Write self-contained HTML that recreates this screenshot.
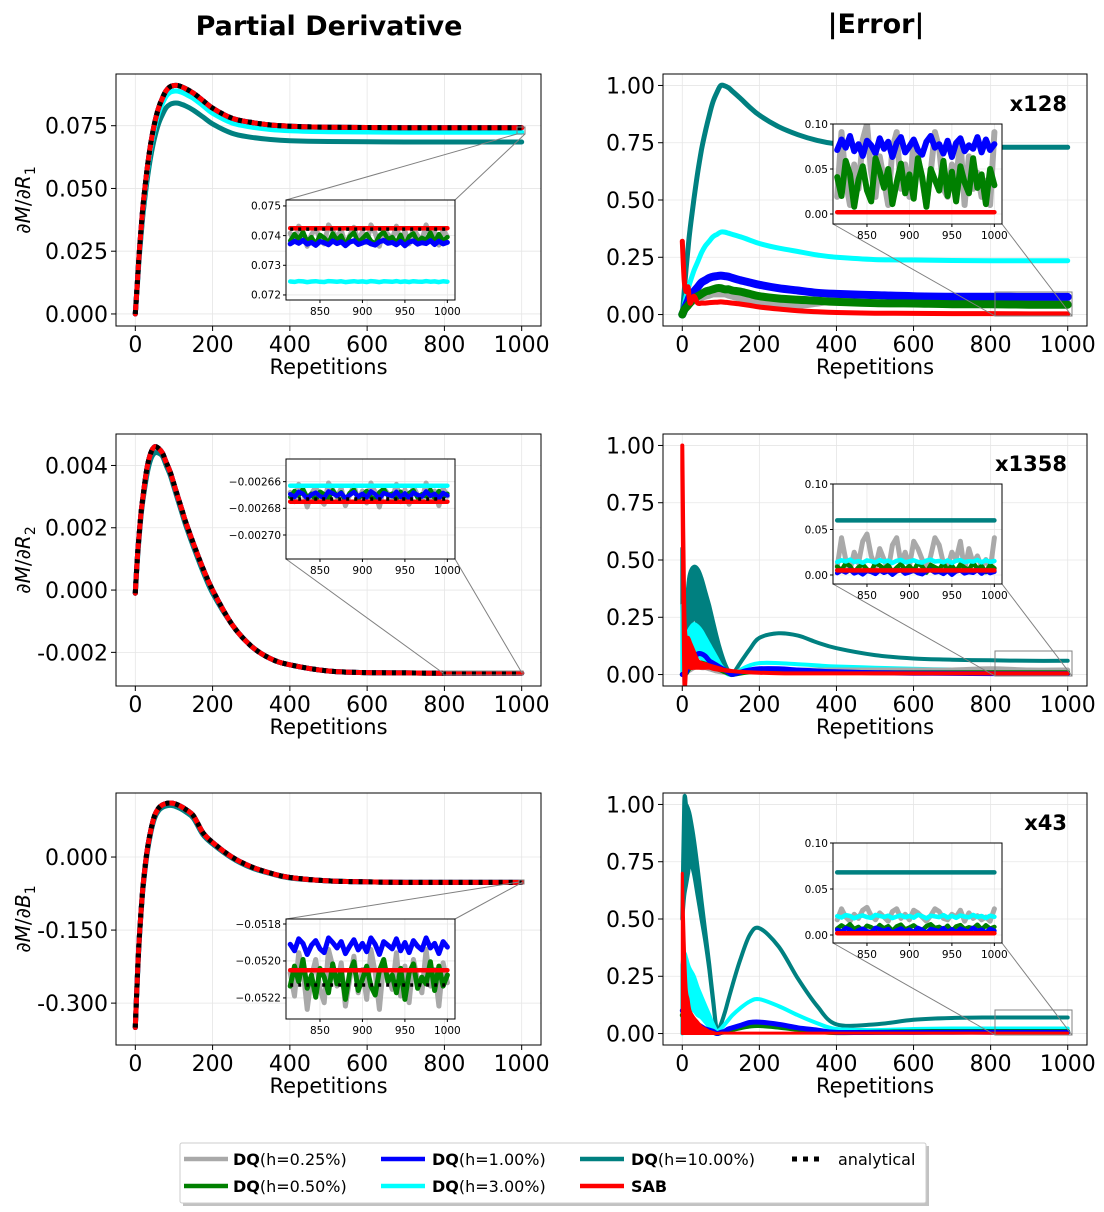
<!DOCTYPE html>
<html><head><meta charset="utf-8"><style>
html,body{margin:0;padding:0;background:#fff;}
svg{display:block;font-family:"DejaVu Sans","Liberation Sans",sans-serif;}
</style></head><body>
<svg id="fig" width="1104" height="1212" viewBox="0 0 1104 1212" xmlns="http://www.w3.org/2000/svg">
<text x="329" y="35" font-size="27" font-weight="bold" text-anchor="middle">Partial Derivative</text>
<text x="876" y="33" font-size="27" font-weight="bold" text-anchor="middle">|Error|</text>
<g id="plots"></g>
<g>
<rect x="183" y="1146" width="746" height="60" fill="#999" opacity="0.6"/>
<rect x="180" y="1143" width="746" height="60" fill="#fff" stroke="#ccc" stroke-width="1" rx="2"/>
<g font-size="16">
<line x1="184" y1="1159" x2="228" y2="1159" stroke="#a9a9a9" stroke-width="4.5"/>
<text x="233" y="1165"><tspan font-weight="bold">DQ</tspan>(h=0.25%)</text>
<line x1="184" y1="1186" x2="228" y2="1186" stroke="#008000" stroke-width="4.5"/>
<text x="233" y="1192"><tspan font-weight="bold">DQ</tspan>(h=0.50%)</text>
<line x1="381" y1="1159" x2="425" y2="1159" stroke="#0000ff" stroke-width="4.5"/>
<text x="432" y="1165"><tspan font-weight="bold">DQ</tspan>(h=1.00%)</text>
<line x1="381" y1="1186" x2="425" y2="1186" stroke="#00ffff" stroke-width="4.5"/>
<text x="432" y="1192"><tspan font-weight="bold">DQ</tspan>(h=3.00%)</text>
<line x1="580" y1="1159" x2="624" y2="1159" stroke="#008080" stroke-width="4.5"/>
<text x="631" y="1165"><tspan font-weight="bold">DQ</tspan>(h=10.00%)</text>
<line x1="580" y1="1186" x2="624" y2="1186" stroke="#ff0000" stroke-width="4.5"/>
<text x="631" y="1192" font-weight="bold">SAB</text>
<line x1="792" y1="1159" x2="822" y2="1159" stroke="#000" stroke-width="5" stroke-dasharray="5,6"/>
<text x="838" y="1165">analytical</text>
</g></g>
</svg>
<script>
// ---------- data ----------
const XA=[0,5,10,15,20,30,40,50,60,70,80,90,100,110,120,130,150,175,200,250,300,350,400,500,600,700,800,900,1000];
// Top-left dM/dR1
const tlAnalytical=[0,.012,.024,.034,.043,.057,.068,.076,.082,.086,.089,.0905,.091,.091,.0905,.0898,.088,.085,.082,.078,.0763,.0753,.0748,.0744,.0743,.0742,.0742,.0742,.0742];
const tlCyan=[0,.0117,.0234,.0332,.042,.0556,.0664,.0742,.080,.0839,.0868,.0883,.0888,.0888,.0883,.0876,.0859,.0830,.0800,.0761,.0745,.0735,.0730,.0726,.0725,.0724,.0724,.0724,.0724];
const tlTeal=[0,.011,.0222,.0314,.0397,.0526,.0628,.0702,.0757,.0794,.0822,.0835,.084,.084,.0835,.0829,.0812,.0785,.0757,.072,.0704,.0695,.069,.0687,.0686,.0685,.0685,.0685,.0685];
// Top-right error x128
const trTeal=[0,.1,.2,.29,.37,.5,.62,.72,.8,.87,.93,.97,1.0,.998,.99,.975,.945,.905,.87,.82,.785,.76,.745,.735,.732,.73,.73,.73,.73];
const trCyan=[0,.04,.08,.11,.14,.19,.23,.27,.3,.32,.34,.35,.36,.36,.355,.35,.34,.325,.31,.29,.275,.26,.25,.24,.238,.236,.235,.235,.235];
const trBlue=[0,.02,.04,.06,.08,.1,.12,.14,.15,.16,.165,.168,.17,.168,.165,.16,.15,.14,.13,.115,.105,.095,.09,.085,.08,.078,.078,.077,.077];
const trGreen=[0,.02,.03,.04,.05,.07,.08,.09,.1,.105,.11,.115,.115,.11,.11,.105,.1,.09,.08,.07,.065,.06,.055,.05,.048,.045,.045,.043,.043];
const trGray=[0,.02,.03,.04,.05,.06,.07,.075,.08,.085,.09,.09,.09,.09,.085,.08,.07,.06,.05,.04,.04,.05,.06,.05,.05,.05,.05,.05,.05];
const trRed=[.32,.15,.1,.12,.05,.08,.05,.05,.05,.052,.053,.054,.055,.054,.052,.05,.046,.04,.033,.024,.017,.012,.009,.006,.005,.004,.004,.003,.003];
// Middle-left dM/dR2
const mlAnalytical=[-.0001,.001,.0018,.0025,.003,.0039,.0044,.0046,.00455,.0044,.0041,.0038,.0034,.003,.0026,.0022,.0015,.0007,0,-.0011,-.0018,-.0022,-.0024,-.0026,-.00265,-.00266,-.00267,-.00267,-.00267];
const mlTeal=[-.0001,.0009,.0017,.0024,.0029,.0037,.0042,.0044,.0044,.0043,.004,.0037,.0033,.0029,.0025,.0021,.0014,.0006,-.0001,-.0011,-.0018,-.0022,-.0024,-.0026,-.00265,-.00266,-.00267,-.00267,-.00267];
// Middle-right error x1358
const mrTealHi=[.55,.15,.25,.38,.44,.47,.46,.42,.36,.3,.23,.16,.1,.05,.015,0,.05,.11,.16,.18,.17,.14,.115,.085,.07,.065,.062,.06,.06];
const mrTealLo=[.3,0,.05,.15,.2,.25,.22,.18,.14,.1,.07,.04,.02,.01,.005,0,.05,.11,.16,.18,.17,.14,.115,.085,.07,.065,.062,.06,.06];
const mrCyanHi=[.3,.05,.12,.18,.2,.22,.21,.19,.16,.13,.1,.07,.04,.02,.005,0,.02,.04,.05,.05,.045,.04,.035,.03,.025,.022,.02,.02,.02];
const mrCyanLo=[0,0,.02,.05,.08,.1,.09,.07,.06,.05,.04,.03,.02,.01,0,0,.02,.04,.05,.05,.045,.04,.035,.03,.025,.022,.02,.02,.02];
const mrBlue=[0,0,.01,.03,.05,.07,.09,.09,.08,.06,.05,.04,.03,.02,.01,0,.01,.02,.025,.025,.02,.015,.012,.008,.006,.005,.004,.004,.004];
const mrGreen=[0,0,.006,.02,.03,.04,.05,.05,.045,.035,.03,.025,.02,.012,.006,0,.006,.012,.015,.015,.012,.01,.01,.008,.008,.008,.008,.008,.008];
const mrGray=[0,0,.005,.015,.02,.03,.035,.03,.03,.025,.02,.015,.012,.01,.008,.005,.01,.015,.02,.02,.02,.02,.02,.02,.02,.02,.025,.02,.02];
const mrRedHi=[1.0,.3,.15,.16,.14,.1,.06,.05,.045,.04,.035,.03,.025,.02,.018,.015,.012,.01,.008,.006,.005,.005,.005,.005,.005,.005,.005,.005,.005];
const mrRedLo=[.9,0,.02,.05,.03,.03,.03,.03,.03,.03,.025,.022,.02,.018,.016,.015,.012,.01,.008,.006,.005,.005,.005,.005,.005,.005,.005,.005,.005];
// Bottom-left dM/dB1
const blAnalytical=[-.35,-.25,-.17,-.11,-.06,.01,.055,.085,.1,.107,.11,.111,.11,.107,.103,.098,.085,.05,.03,.0,-.02,-.033,-.042,-.049,-.051,-.052,-.052,-.052,-.052];
const blTeal=[-.35,-.255,-.175,-.115,-.065,.004,.05,.08,.095,.102,.105,.106,.105,.102,.098,.093,.08,.046,.027,-.002,-.022,-.034,-.043,-.049,-.051,-.052,-.052,-.052,-.052];
// Bottom-right error x43
const brTealHi=[.5,1.0,1.0,.98,.95,.85,.72,.58,.44,.3,.15,.01,.04,.09,.15,.21,.32,.43,.46,.38,.24,.12,.04,.04,.06,.068,.07,.07,.07];
const brTealLo=[.5,.6,.65,.7,.75,.7,.6,.5,.4,.28,.14,.01,.04,.09,.15,.21,.32,.43,.46,.38,.24,.12,.04,.04,.06,.068,.07,.07,.07];
const brCyanHi=[.3,.35,.33,.3,.28,.25,.2,.16,.12,.08,.04,.01,.02,.04,.06,.08,.11,.14,.15,.12,.08,.045,.02,.015,.02,.022,.022,.022,.022];
const brCyanLo=[0,.05,.08,.1,.1,.1,.08,.07,.05,.03,.02,.01,.02,.04,.06,.08,.11,.14,.15,.12,.08,.045,.02,.015,.02,.022,.022,.022,.022];
const brBlue=[.1,.1,.08,.07,.06,.05,.04,.03,.02,.015,.01,0,.005,.01,.02,.025,.035,.048,.05,.04,.025,.015,.005,.005,.005,.006,.006,.006,.006];
const brGreen=[.08,.08,.06,.05,.04,.035,.03,.02,.015,.01,.006,0,.004,.008,.014,.018,.025,.033,.035,.028,.018,.01,.004,.006,.008,.009,.009,.009,.009];
const brRedHi=[.7,.4,.2,.15,.1,.07,.05,.03,.02,.01,.005,0,.002,.002,.002,.002,.002,.002,.002,.002,.002,.002,.002,.002,.002,.002,.002,.002,.002];
const brRedLo=[0,0,0,0,0,0,0,0,0,0,0,0,.002,.002,.002,.002,.002,.002,.002,.002,.002,.002,.002,.002,.002,.002,.002,.002,.002];
// inset wiggle readings (x = 815..1000 step 5)
const XI=[815,820,825,830,835,840,845,850,855,860,865,870,875,880,885,890,895,900,905,910,915,920,925,930,935,940,945,950,955,960,965,970,975,980,985,990,995,1000];
const NA=[.2,-.5,.8,.3,-.9,.1,.6,-.3,-.7,.9,.4,-.2,.5,-.8,0,.7,-.4,.3,-.6,.9,.2,-.9,.5,.1,-.3,.8,-.5,.4,-.7,.6,0,-.4,.9,-.2,.3,-.8,.5,-.1];
const NB=[-.3,.6,-.1,.9,-.4,.2,-.8,.5,.1,-.6,.7,-.2,.4,-.9,.3,.8,-.5,0,.6,-.3,-.7,.4,.9,-.1,.2,-.6,.5,-.9,.3,.7,-.4,.1,-.2,.8,-.5,.6,-.3,.2];
const NC=[.1,.9,.3,0,.5,.2,.8,1,.4,.1,.6,.3,0,.7,.9,.2,.5,.1,.8,.6,.3,0,.4,.9,.7,.2,.1,.5,.3,.8,0,.6,.2,.4,.1,.3,0,.9];
const NZ=XI.map(()=>0);
const XTICKS=[0,200,400,600,800,1000];
const ITICKS=[850,900,950,1000];

// ---------- colours ----------
const C={gray:'#a9a9a9',green:'#008000',blue:'#0000ff',cyan:'#00ffff',teal:'#008080',red:'#ff0000',black:'#000'};
const NS='http://www.w3.org/2000/svg';
const root=document.getElementById('plots');
let clipId=0;
function mk(tag,attrs,parent){const e=document.createElementNS(NS,tag);for(const k in attrs)e.setAttribute(k,attrs[k]);(parent||root).appendChild(e);return e;}
function sx(a,v){return a.x0+(v-a.xmin)/(a.xmax-a.xmin)*a.w;}
function sy(a,v){return a.y0+a.h-(v-a.ymin)/(a.ymax-a.ymin)*a.h;}
function smooth(pts,move){
  let d=(move?'M':'L')+pts[0][0].toFixed(1)+','+pts[0][1].toFixed(1);
  for(let i=0;i<pts.length-1;i++){
    const p0=pts[Math.max(0,i-1)],p1=pts[i],p2=pts[i+1],p3=pts[Math.min(pts.length-1,i+2)];
    const c1=[p1[0]+(p2[0]-p0[0])/6,p1[1]+(p2[1]-p0[1])/6];
    const c2=[p2[0]-(p3[0]-p1[0])/6,p2[1]-(p3[1]-p1[1])/6];
    d+='C'+c1[0].toFixed(1)+','+c1[1].toFixed(1)+' '+c2[0].toFixed(1)+','+c2[1].toFixed(1)+' '+p2[0].toFixed(1)+','+p2[1].toFixed(1);
  }
  return d;
}

function drawAxes(a,name,fs,xt,xlabels){
  const g=mk('g',{});
  
  
  mk('rect',{x:a.x0,y:a.y0,width:a.w,height:a.h,fill:'#fff'},g);
  const id='c'+(clipId++);
  const cp=mk('clipPath',{id:id},g);mk('rect',{x:a.x0,y:a.y0,width:a.w,height:a.h},cp);
  xt.forEach(v=>mk('line',{x1:sx(a,v),x2:sx(a,v),y1:a.y0,y2:a.y0+a.h,stroke:'#e6e6e6','stroke-width':0.8},g));
  a.yticks.forEach(v=>mk('line',{x1:a.x0,x2:a.x0+a.w,y1:sy(a,v),y2:sy(a,v),stroke:'#e6e6e6','stroke-width':0.8},g));
  const plot=mk('g',{'clip-path':'url(#'+id+')'},g);
  const big=fs>15;
  xt.forEach((v,i)=>{const x=sx(a,v);mk('line',{x1:x,x2:x,y1:a.y0+a.h,y2:a.y0+a.h+(big?5:3),stroke:'#000','stroke-width':1},g);
    const t=mk('text',{x:x,y:a.y0+a.h+(big?26:15),'font-size':fs,'text-anchor':'middle'},g);t.textContent=xlabels[i];
    
    });
  a.yticks.forEach((v,i)=>{const y=sy(a,v);mk('line',{x1:a.x0,x2:a.x0-(big?5:3),y1:y,y2:y,stroke:'#000','stroke-width':1},g);
    const t=mk('text',{x:a.x0-(big?8:5),y:y+fs*0.36,'font-size':fs,'text-anchor':'end'},g);t.textContent=a.ylabels[i];
    
    });
  return {g,plot};
}
function frame(a,g){mk('rect',{x:a.x0,y:a.y0,width:a.w,height:a.h,fill:'none',stroke:'#000','stroke-width':1},g);}

function drawSeries(a,plot,xs,ys,color,w,name,dash,lo,sm){
  const P=xs.map((x,i)=>[sx(a,x),sy(a,ys[i])]);
  if(lo){
    const Q=xs.map((x,i)=>[sx(a,x),sy(a,lo[i])]).reverse();
    const d=smooth(P,true)+'L'+Q[0][0].toFixed(1)+','+Q[0][1].toFixed(1)+smooth(Q,false).replace(/^L[^C]*/,'')+'Z';
    const b=mk('path',{d:d,fill:color,stroke:color,'stroke-width':w,'stroke-linejoin':'round'},plot);
    
    
    return;
  }
  const d=sm?smooth(P,true):'M'+P.map(p=>p[0].toFixed(1)+','+p[1].toFixed(1)).join('L');
  const p=mk('path',{d:d,fill:'none',stroke:color,'stroke-width':w,'stroke-linejoin':'round','stroke-linecap':dash?'butt':'round'},plot);
  if(dash)p.setAttribute('stroke-dasharray',dash);
  
  
}

function mainPanel(a,name,series,ylabelParts,scale){
  const xl=XTICKS.map(String);
  const {g,plot}=drawAxes(a,name,22,XTICKS,xl);
  series.forEach(s=>drawSeries(a,plot,XA,s.y,C[s.c],s.w||5,s.n,s.dash,s.lo,true));
  frame(a,g);
  const xt=mk('text',{x:a.x0+a.w/2,y:a.y0+a.h+48,'font-size':21,'text-anchor':'middle'},g);xt.textContent='Repetitions';
  
  
  if(ylabelParts){
    const cy=a.y0+a.h/2;
    const t=mk('text',{x:0,y:0,'font-size':20,'text-anchor':'middle',transform:'translate(30,'+cy+') rotate(-90)'},g);
    t.innerHTML='∂<tspan font-style="italic">M</tspan>/∂<tspan font-style="italic">'+ylabelParts[0]+'</tspan><tspan font-size="14" dy="5">'+ylabelParts[1]+'</tspan>';
    
    
  }
  if(scale){
    const t=mk('text',{x:a.x0+a.w-20,y:a.y0+37,'font-size':21,'font-weight':'bold','text-anchor':'end'},g);t.textContent=scale;
    
    
  }
}
function insetPanel(a,name,series,zoom){
  const z=mk('g',{});
  
  
  mk('rect',{x:zoom.r[0],y:zoom.r[1],width:zoom.r[2],height:zoom.r[3],fill:'none',stroke:'#808080','stroke-width':1},z);
  zoom.l.forEach(l=>mk('line',{x1:l[0],y1:l[1],x2:l[2],y2:l[3],stroke:'#808080','stroke-width':1},z));
  const {g,plot}=drawAxes(a,name,10.5,ITICKS,ITICKS.map(String));
  series.forEach(s=>{
    const N=s.nz||NZ;
    const ys=XI.map((x,i)=>s.level+(s.amp||0)*N[i]);
    drawSeries(a,plot,XI,ys,C[s.c],s.w||4.5,s.n,s.dash,null,false);
  });
  frame(a,g);
}

function L(y0,ymin,ymax,yt,yl){return {x0:116,y0:y0,w:425,h:252,xmin:-50,xmax:1050,ymin,ymax,yticks:yt,ylabels:yl};}
function R(y0){return {x0:663,y0:y0,w:424,h:252,xmin:-50,xmax:1050,ymin:-.05,ymax:1.05,yticks:[0,.25,.5,.75,1],ylabels:['0.00','0.25','0.50','0.75','1.00']};}
function I(x0,y0,ymin,ymax,yt,yl){return {x0,y0,w:169,h:100,xmin:810,xmax:1009,ymin,ymax,yticks:yt,ylabels:yl};}

// Top-left
mainPanel(L(74,-.0048,.0956,[0,.025,.05,.075],['0.000','0.025','0.050','0.075']),'panel-dm-dr1',[
 {c:'teal',y:tlTeal,n:'line-dq-10'},{c:'cyan',y:tlCyan,n:'line-dq-3'},
 {c:'gray',y:tlAnalytical,n:'line-dq-025'},{c:'green',y:tlAnalytical,n:'line-dq-05'},{c:'blue',y:tlAnalytical,n:'line-dq-1'},
 {c:'red',y:tlAnalytical,n:'line-sab'},{c:'black',y:tlAnalytical,n:'line-analytical',dash:'4,6',w:5}],['R','1']);
insetPanel(I(286,200,.07183,.0752,[.075,.074,.073,.072],['0.075','0.074','0.073','0.072']),'inset-dm-dr1',[
 {c:'cyan',level:.07245,amp:.00002,nz:NA,n:'inset-dq-3'},{c:'gray',level:.0740,amp:.0004,nz:NA,w:5,n:'inset-dq-025'},
 {c:'green',level:.0739,amp:.00025,nz:NB,n:'inset-dq-05'},{c:'blue',level:.07375,amp:.0001,nz:NB,w:5,n:'inset-dq-1'},
 {c:'red',level:.07425,n:'inset-sab'},{c:'black',level:.07422,dash:'3,5',w:3.5,n:'inset-analytical'}],
 {r:[517,127,8,7],l:[[286,200,517,134],[455,200,525,134]]});

// Top-right
mainPanel(R(74),'panel-error-dr1',[
 {c:'teal',y:trTeal,n:'err-dq-10'},{c:'cyan',y:trCyan,n:'err-dq-3'},
 {c:'gray',y:trGray,n:'err-dq-025',w:7},{c:'blue',y:trBlue,n:'err-dq-1',w:8},{c:'green',y:trGreen,n:'err-dq-05',w:8},
 {c:'red',y:trRed,n:'err-sab'}],null,'x128');
insetPanel(I(833,124,-.0111,.10,[0,.05,.1],['0.00','0.05','0.10']),'inset-error-dr1',[
 {c:'gray',level:.01,amp:.09,nz:NC,w:6,n:'inset-err-dq-025'},{c:'blue',level:.075,amp:.013,nz:NB,w:6,n:'inset-err-dq-1'},
 {c:'green',level:.035,amp:.03,nz:NA,w:6,n:'inset-err-dq-05'},{c:'red',level:.002,n:'inset-err-sab'}],
 {r:[995,292,77,24],l:[[833,224,995,316],[1002,224,1072,316]]});

// Middle-left
mainPanel(L(434,-.00308,.00501,[.004,.002,0,-.002],['0.004','0.002','0.000','-0.002']),'panel-dm-dr2',[
 {c:'teal',y:mlTeal,n:'line-dq-10'},{c:'cyan',y:mlAnalytical,n:'line-dq-3'},
 {c:'gray',y:mlAnalytical,n:'line-dq-025'},{c:'green',y:mlAnalytical,n:'line-dq-05'},{c:'blue',y:mlAnalytical,n:'line-dq-1'},
 {c:'red',y:mlAnalytical,n:'line-sab'},{c:'black',y:mlAnalytical,n:'line-analytical',dash:'4,6'}],['R','2']);
insetPanel(I(286,459,-.002718,-.002643,[-.00266,-.00268,-.0027],['−0.00266','−0.00268','−0.00270']),'inset-dm-dr2',[
 {c:'gray',level:-.00267,amp:.00001,nz:NA,w:5,n:'inset-dq-025'},{c:'green',level:-.00267,amp:.000005,nz:NB,n:'inset-dq-05'},
 {c:'blue',level:-.00267,amp:.000003,nz:NA,n:'inset-dq-1'},{c:'cyan',level:-.002663,n:'inset-dq-3'},
 {c:'red',level:-.002675,n:'inset-sab'},{c:'black',level:-.002673,dash:'3,5',w:3.5,n:'inset-analytical'}],
 {r:[443,671,80,4],l:[[286,559,443,673],[455,559,522,673]]});

// Middle-right
mainPanel(R(434),'panel-error-dr2',[
 {c:'teal',y:mrTealHi,lo:mrTealLo,n:'err-dq-10',w:4},{c:'cyan',y:mrCyanHi,lo:mrCyanLo,n:'err-dq-3',w:4},
 {c:'gray',y:mrGray,n:'err-dq-025'},{c:'green',y:mrGreen,n:'err-dq-05'},{c:'blue',y:mrBlue,n:'err-dq-1'},
 {c:'red',y:mrRedHi,lo:mrRedLo,n:'err-sab',w:4}],null,'x1358');
insetPanel(I(833,484,-.0099,.10,[0,.05,.1],['0.00','0.05','0.10']),'inset-error-dr2',[
 {c:'teal',level:.06,n:'inset-err-dq-10'},{c:'gray',level:.005,amp:.04,nz:NC,w:5,n:'inset-err-dq-025'},
 {c:'green',level:.008,amp:.006,nz:NA,n:'inset-err-dq-05'},{c:'cyan',level:.015,amp:.002,nz:NB,n:'inset-err-dq-3'},
 {c:'blue',level:.003,amp:.003,nz:NB,n:'inset-err-dq-1'},{c:'red',level:.005,n:'inset-err-sab'}],
 {r:[995,651,77,25],l:[[833,584,995,676],[1002,584,1072,676]]});

// Bottom-left
mainPanel(L(793,-.386,.1315,[0,-.15,-.3],['0.000','-0.150','-0.300']),'panel-dm-db1',[
 {c:'teal',y:blTeal,n:'line-dq-10'},{c:'cyan',y:blAnalytical,n:'line-dq-3'},
 {c:'gray',y:blAnalytical,n:'line-dq-025'},{c:'green',y:blAnalytical,n:'line-dq-05'},{c:'blue',y:blAnalytical,n:'line-dq-1'},
 {c:'red',y:blAnalytical,n:'line-sab'},{c:'black',y:blAnalytical,n:'line-analytical',dash:'4,6'}],['B','1']);
insetPanel(I(286,919,-.052314,-.051773,[-.0518,-.052,-.0522],['−0.0518','−0.0520','−0.0522']),'inset-dm-db1',[
 {c:'gray',level:-.0521,amp:.00018,nz:NA,w:5,n:'inset-dq-025'},{c:'green',level:-.0521,amp:.00012,nz:NB,w:5,n:'inset-dq-05'},
 {c:'blue',level:-.05192,amp:.00005,nz:NA,w:5,n:'inset-dq-1'},{c:'red',level:-.05205,n:'inset-sab'},
 {c:'black',level:-.05213,dash:'3,5',w:3.5,n:'inset-analytical'}],
 {r:[519,880,5,4],l:[[286,919,519,882],[455,919,523,882]]});

// Bottom-right
mainPanel(R(793),'panel-error-db1',[
 {c:'teal',y:brTealHi,lo:brTealLo,n:'err-dq-10',w:4},{c:'cyan',y:brCyanHi,lo:brCyanLo,n:'err-dq-3',w:4},
 {c:'green',y:brGreen,n:'err-dq-05'},{c:'blue',y:brBlue,n:'err-dq-1'},
 {c:'red',y:brRedHi,lo:brRedLo,n:'err-sab',w:3}],null,'x43');
insetPanel(I(833,843,-.0087,.10,[0,.05,.1],['0.00','0.05','0.10']),'inset-error-db1',[
 {c:'teal',level:.068,n:'inset-err-dq-10'},{c:'gray',level:.015,amp:.015,nz:NC,w:5,n:'inset-err-dq-025'},
 {c:'cyan',level:.02,amp:.002,nz:NA,n:'inset-err-dq-3'},{c:'green',level:.008,amp:.004,nz:NB,n:'inset-err-dq-05'},
 {c:'blue',level:.005,amp:.003,nz:NA,n:'inset-err-dq-1'},{c:'red',level:.002,n:'inset-err-sab'}],
 {r:[995,1010,77,25],l:[[833,943,995,1035],[1002,943,1072,1035]]});
</script>
</body></html>
